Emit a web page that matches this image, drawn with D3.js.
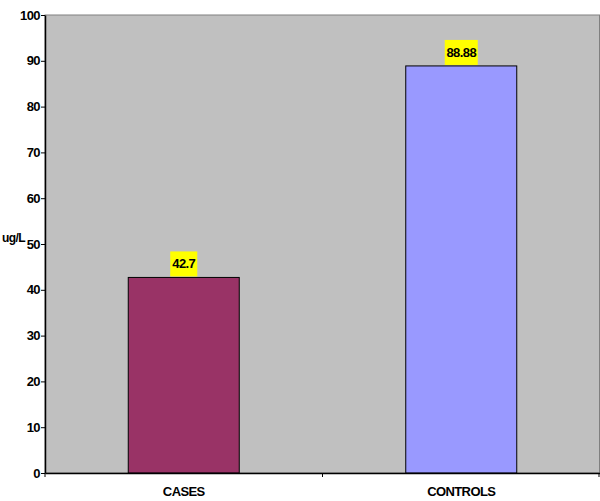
<!DOCTYPE html>
<html>
<head>
<meta charset="utf-8">
<script src="https://cdn.jsdelivr.net/npm/d3@7"></script>
<style>
  body { margin: 0; background: #fff; }
  text { font-family: "Liberation Sans", Arial, sans-serif; font-weight: bold; font-size: 13px; letter-spacing: -0.6px; }
</style>
</head>
<body>
<div id="chart"></div>
<script>
/** DATA */
const categories = ["CASES", "CONTROLS"];
const values = [42.7, 88.88];
const valueLabels = ["42.7", "88.88"];
const barColors = ["#993366", "#9999ff"];
const yTicks = [0, 10, 20, 30, 40, 50, 60, 70, 80, 90, 100];

/** CONSTANTS */
const width = 600;
const height = 501;
const margins = { top: 15, bottom: 28, left: 45, right: 0 };

const xScale = d3.scaleBand()
  .domain(categories)
  .range([margins.left, width - margins.right])
  .paddingInner(0.6)
  .paddingOuter(0.3)

const yScale = d3.scaleLinear()
  .domain([0, 100])
  .range([height - margins.bottom, margins.top])

const svg = d3.select("#chart")
  .append("svg")
  .attr("width", width)
  .attr("height", height)

// plot area
svg.append("rect")
  .attr("x", margins.left)
  .attr("y", margins.top)
  .attr("width", width - margins.left - margins.right - 0.5)
  .attr("height", yScale(0) - margins.top)
  .attr("fill", "#c0c0c0")
  .attr("stroke", "#808080")
  .attr("stroke-width", 1)

// bars
svg.selectAll("rect.bar")
  .data(values)
  .join("rect")
  .attr("class", "bar")
  .attr("x", (d, i) => xScale(categories[i]))
  .attr("y", d => yScale(d))
  .attr("width", xScale.bandwidth())
  .attr("height", d => yScale(0) - yScale(d))
  .attr("fill", (d, i) => barColors[i])
  .attr("stroke", "#000")
  .attr("stroke-width", 1)

// value labels with yellow box
const labels = svg.selectAll("g.vlabel")
  .data(values)
  .join("g")
  .attr("class", "vlabel")
  .attr("transform", (d, i) => `translate(${xScale(categories[i]) + xScale.bandwidth() / 2}, ${yScale(d) - 1})`)

labels.append("rect")
  .attr("x", (d, i) => -(valueLabels[i].length * 6 + 3) / 2)
  .attr("y", -25)
  .attr("width", (d, i) => valueLabels[i].length * 6 + 3)
  .attr("height", 25)
  .attr("fill", "#ffff00")

labels.append("text")
  .attr("text-anchor", "middle")
  .attr("y", -8)
  .text((d, i) => valueLabels[i])

// axes
const yAxis = svg.append("g")
  .attr("transform", `translate(${margins.left},0)`)
  .call(d3.axisLeft(yScale).tickValues(yTicks).tickSize(4).tickSizeOuter(0).tickPadding(1))
yAxis.selectAll("text").style("font-size", "13px").attr("fill", "#000")
yAxis.select(".domain").attr("stroke-width", 1.5)

const xAxis = svg.append("g")
  .attr("transform", `translate(0,${yScale(0)})`)
  .call(d3.axisBottom(xScale).tickSize(0).tickPadding(11))
xAxis.select(".domain").attr("stroke-width", 1.5)
xAxis.selectAll("text").style("font-size", "13px").attr("dy", "0.9em")

// category boundary ticks
const bounds = [margins.left, margins.left + (width - margins.left) / 2, width - 1];
svg.selectAll("line.xtick")
  .data(bounds)
  .join("line")
  .attr("class", "xtick")
  .attr("x1", d => d)
  .attr("x2", d => d)
  .attr("y1", yScale(0))
  .attr("y2", yScale(0) + 4)
  .attr("stroke", "#000")

// y axis title
svg.append("text")
  .attr("x", 2)
  .attr("y", yScale(50) - 2)
  .style("font-size", "12px")
  .text("ug/L")
</script>
</body>
</html>
